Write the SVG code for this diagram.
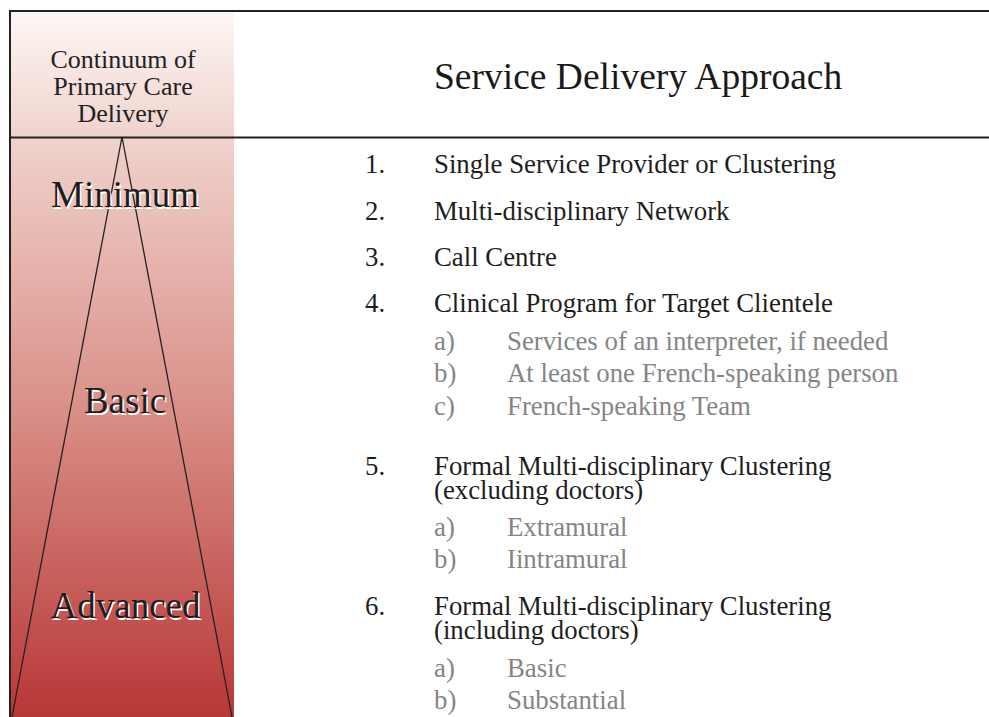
<svg xmlns="http://www.w3.org/2000/svg" width="989" height="717" viewBox="0 0 989 717">
<defs>
<linearGradient id="colGrad" x1="0" y1="11" x2="0" y2="717" gradientUnits="userSpaceOnUse">
<stop offset="0" stop-color="#fdf7f5"/>
<stop offset="0.18" stop-color="#f0d2cc"/>
<stop offset="0.55" stop-color="#da928a"/>
<stop offset="1" stop-color="#b83737"/>
</linearGradient>
</defs>
<style>
text{font-family:"Liberation Serif","Times New Roman",serif;}
.hdr{font-size:26px;fill:#222;text-anchor:middle;}
.title{font-size:37.5px;fill:#1a1a1a;}
.lvl{font-size:37px;text-anchor:middle;}
.lvl-sh{fill:#ffffff;}
.lvl-fg{fill:#1e1e1e;}
.item{font-size:26.8px;fill:#1e1e1e;}
.sub{font-size:26.8px;fill:#858585;}
.frame{stroke:#222;stroke-width:2;fill:none;}
.tri{stroke:#222;stroke-width:1.3;fill:none;}
</style>
<rect x="11" y="11" width="223" height="706" fill="url(#colGrad)"/>
<g id="frame">
<line class="frame" x1="10" y1="11" x2="989" y2="11"/>
<line class="frame" x1="10" y1="10" x2="10" y2="717"/>
<line class="frame" x1="10" y1="137.5" x2="989" y2="137.5"/>
</g>
<g id="connectors">
<polyline class="tri" points="12,717 122,137 232,717"/>
</g>
<g id="header-continuum">
<text class="hdr" x="123" y="68">Continuum of</text>
<text class="hdr" x="123" y="95">Primary Care</text>
<text class="hdr" x="123" y="122">Delivery</text>
</g>
<g id="header-approach">
<text class="title" x="434" y="89">Service Delivery Approach</text>
</g>
<g id="level-minimum">
<text class="lvl lvl-sh" x="126.5" y="208.5">Minimum</text>
<text class="lvl lvl-fg" x="125" y="207">Minimum</text>
</g>
<g id="level-basic">
<text class="lvl lvl-sh" x="126.5" y="414.5">Basic</text>
<text class="lvl lvl-fg" x="125" y="413">Basic</text>
</g>
<g id="level-advanced">
<text class="lvl lvl-sh" x="127" y="619.5">Advanced</text>
<text class="lvl lvl-fg" x="125.5" y="618">Advanced</text>
</g>
<g id="list">
<text class="item" x="365" y="173">1.</text>
<text class="item" x="434" y="173">Single Service Provider or Clustering</text>
<text class="item" x="365" y="220">2.</text>
<text class="item" x="434" y="220">Multi-disciplinary Network</text>
<text class="item" x="365" y="266">3.</text>
<text class="item" x="434" y="266">Call Centre</text>
<text class="item" x="365" y="312">4.</text>
<text class="item" x="434" y="312">Clinical Program for Target Clientele</text>
<text class="sub" x="434" y="350">a)</text>
<text class="sub" x="507" y="350">Services of an interpreter, if needed</text>
<text class="sub" x="434" y="382">b)</text>
<text class="sub" x="507" y="382">At least one French-speaking person</text>
<text class="sub" x="434" y="415">c)</text>
<text class="sub" x="507" y="415">French-speaking Team</text>
<text class="item" x="365" y="475">5.</text>
<text class="item" x="434" y="475">Formal Multi-disciplinary Clustering</text>
<text class="item" x="434" y="499">(excluding doctors)</text>
<text class="sub" x="434" y="536">a)</text>
<text class="sub" x="507" y="536">Extramural</text>
<text class="sub" x="434" y="568">b)</text>
<text class="sub" x="507" y="568">Iintramural</text>
<text class="item" x="365" y="615">6.</text>
<text class="item" x="434" y="615">Formal Multi-disciplinary Clustering</text>
<text class="item" x="434" y="639">(including doctors)</text>
<text class="sub" x="434" y="677">a)</text>
<text class="sub" x="507" y="677">Basic</text>
<text class="sub" x="434" y="709">b)</text>
<text class="sub" x="507" y="709">Substantial</text>
</g>
</svg>
